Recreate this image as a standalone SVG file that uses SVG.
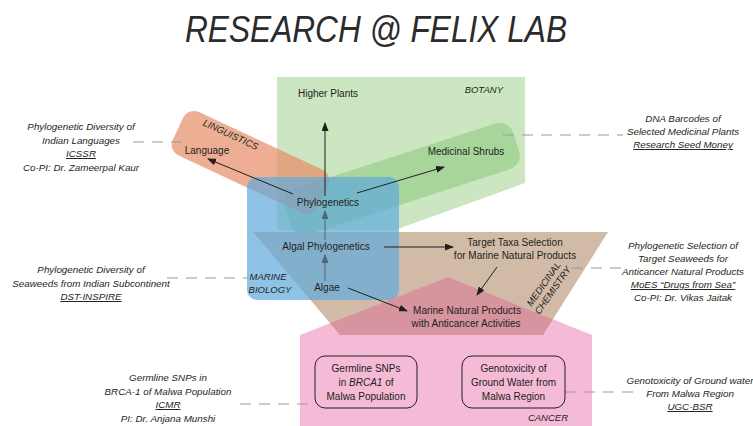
<svg xmlns="http://www.w3.org/2000/svg" width="753" height="426" viewBox="0 0 753 426">
<style>
text{font-family:"Liberation Sans",Arial,sans-serif;fill:#231f20}
.n{font-size:10px;text-anchor:middle}
.s{font-size:9.8px;font-style:italic;text-anchor:middle}
.lab{font-size:9.5px;font-style:italic}
.u{text-decoration:underline}
.arr{stroke:#231f20;stroke-width:1;fill:none;marker-end:url(#ah)}
.arrb{stroke:#4f6878;stroke-width:1;fill:none;marker-end:url(#ahb)}
.dash{stroke:#9a9a9a;stroke-width:1.2;stroke-dasharray:11 8;fill:none}
.box{fill:none;stroke:#231f20;stroke-width:1}
</style>
<defs>
<marker id="ah" markerUnits="userSpaceOnUse" markerWidth="9" markerHeight="7" refX="8" refY="3.5" orient="auto"><path d="M0,0 L9,3.5 L0,7 z" fill="#231f20"/></marker>
<marker id="ahb" markerUnits="userSpaceOnUse" markerWidth="9" markerHeight="7" refX="8" refY="3.5" orient="auto"><path d="M0,0 L9,3.5 L0,7 z" fill="#4f6878"/></marker>
<clipPath id="brownClip"><polygon points="253,232 608,232 543,335 340,335"/></clipPath>
</defs>
<rect width="753" height="426" fill="#ffffff"/>
<text x="376" y="42" font-size="37" font-style="italic" text-anchor="middle" textLength="382" lengthAdjust="spacingAndGlyphs" style="fill:#2b2b2b;font-size:37px">RESEARCH @ FELIX LAB</text>

<g id="areas">
<polygon id="botany-area" points="277,77 525,77 525,183 395,230 277,230" fill="#cbe6c1"/>
<rect id="shrubs-band" x="-120" y="-24" width="240" height="48" rx="14" transform="translate(402,179) rotate(-18)" fill="#a8d69a"/>
<rect id="linguistics-band" x="-10" y="-24" width="160" height="48" rx="12" transform="translate(187,133) rotate(25)" fill="#e58c66" fill-opacity="0.7"/>
<polygon id="medchem-area" points="253,232 608,232 543,335 340,335" fill="#d2bba6"/>
<polygon id="cancer-area" points="300,335 448,277 592,335 592,426 300,426" fill="#f4bad6"/>
<polygon points="300,335 448,277 592,335" fill="#d6949f" clip-path="url(#brownClip)"/>
<rect id="marine-area" x="247" y="177" width="152" height="123" rx="10" fill="#5faadc" fill-opacity="0.7"/>
</g>

<g id="connectors">
<line class="arr" x1="325" y1="196" x2="325" y2="123"/>
<line class="arr" x1="293" y1="194" x2="208" y2="159"/>
<line class="arr" x1="357" y1="193" x2="444" y2="167"/>
<line class="arrb" x1="325" y1="240" x2="325" y2="211"/>
<line class="arrb" x1="325" y1="281" x2="325" y2="255"/>
<line class="arr" x1="384" y1="247" x2="453" y2="247"/>
<line class="arr" x1="497" y1="267" x2="477" y2="295"/>
<line class="arr" x1="348" y1="288" x2="407" y2="311"/>
<line class="dash" x1="133" y1="142" x2="186" y2="142"/>
<line class="dash" x1="503" y1="135" x2="623" y2="135"/>
<line class="dash" x1="167" y1="278" x2="248" y2="278"/>
<line class="dash" x1="572" y1="268" x2="621" y2="268"/>
<line class="dash" x1="240" y1="404" x2="315" y2="404"/>
<line class="dash" x1="565" y1="392" x2="636" y2="392"/>
</g>

<g id="area-labels">
<text class="lab" x="503" y="93" text-anchor="end">BOTANY</text>
<text class="lab" x="231" y="138" text-anchor="middle" transform="rotate(25 231 134)">LINGUISTICS</text>
<text class="lab" x="268" y="280" text-anchor="middle">MARINE</text>
<text class="lab" x="270" y="293" text-anchor="middle">BIOLOGY</text>
<g transform="translate(548,287) rotate(-55)"><text class="lab" x="0" y="-2" text-anchor="middle">MEDICINAL</text><text class="lab" x="0" y="9" text-anchor="middle">CHEMISTRY</text></g>
<text class="lab" x="568" y="421" text-anchor="end">CANCER</text>
</g>

<g id="node-higher-plants"><text class="n" x="328" y="97">Higher Plants</text></g>
<g id="node-language"><text class="n" x="207" y="154">Language</text></g>
<g id="node-medicinal-shrubs"><text class="n" x="466" y="155">Medicinal Shrubs</text></g>
<g id="node-phylogenetics"><text class="n" x="328" y="206">Phylogenetics</text></g>
<g id="node-algal-phylogenetics"><text class="n" x="326" y="250">Algal Phylogenetics</text></g>
<g id="node-target-taxa"><text class="n" x="515" y="246">Target Taxa Selection</text><text class="n" x="515" y="259">for Marine Natural Products</text></g>
<g id="node-algae"><text class="n" x="327" y="291">Algae</text></g>
<g id="node-marine-natural-products"><text class="n" x="467" y="314">Marine Natural Products</text><text class="n" x="466" y="327">with Anticancer Activities</text></g>
<g id="node-germline"><rect class="box" x="315" y="356" width="102" height="52" rx="10"/><text class="n" x="366" y="372">Germline SNPs</text><text class="n" x="366" y="386">in <tspan font-style="italic">BRCA1</tspan> of</text><text class="n" x="366" y="400">Malwa Population</text></g>
<g id="node-genotoxicity"><rect class="box" x="462" y="356" width="103" height="52" rx="10"/><text class="n" x="513.5" y="372">Genotoxicity of</text><text class="n" x="513.5" y="386">Ground Water from</text><text class="n" x="513.5" y="400">Malwa Region</text></g>

<g id="note-languages"><text class="s" x="81" y="130">Phylogenetic Diversity of</text><text class="s" x="81" y="143.5">Indian Languages</text><text class="s u" x="81" y="157">ICSSR</text><text class="s" x="81" y="170.5">Co-PI: Dr. Zameerpal Kaur</text></g>
<g id="note-dna-barcodes"><text class="s" x="683" y="122">DNA Barcodes of</text><text class="s" x="683" y="135">Selected Medicinal Plants</text><text class="s u" x="683" y="148">Research Seed Money</text></g>
<g id="note-seaweeds"><text class="s" x="91" y="273">Phylogenetic Diversity of</text><text class="s" x="91" y="286.5">Seaweeds from Indian Subcontinent</text><text class="s u" x="91" y="300">DST-INSPIRE</text></g>
<g id="note-medchem"><text class="s" x="683" y="249">Phylogenetic Selection of</text><text class="s" x="683" y="262">Target Seaweeds for</text><text class="s" x="683" y="275">Anticancer Natural Products</text><text class="s u" x="683" y="288">MoES “Drugs from Sea”</text><text class="s" x="683" y="301">Co-PI: Dr. Vikas Jaitak</text></g>
<g id="note-germline"><text class="s" x="168" y="381">Germline SNPs in</text><text class="s" x="168" y="394.5">BRCA-1 of Malwa Population</text><text class="s u" x="168" y="408">ICMR</text><text class="s" x="168" y="421.5">PI: Dr. Anjana Munshi</text></g>
<g id="note-groundwater"><text class="s" x="690" y="384">Genotoxicity of Ground water</text><text class="s" x="690" y="397">From Malwa Region</text><text class="s u" x="690" y="410">UGC-BSR</text></g>
</svg>
